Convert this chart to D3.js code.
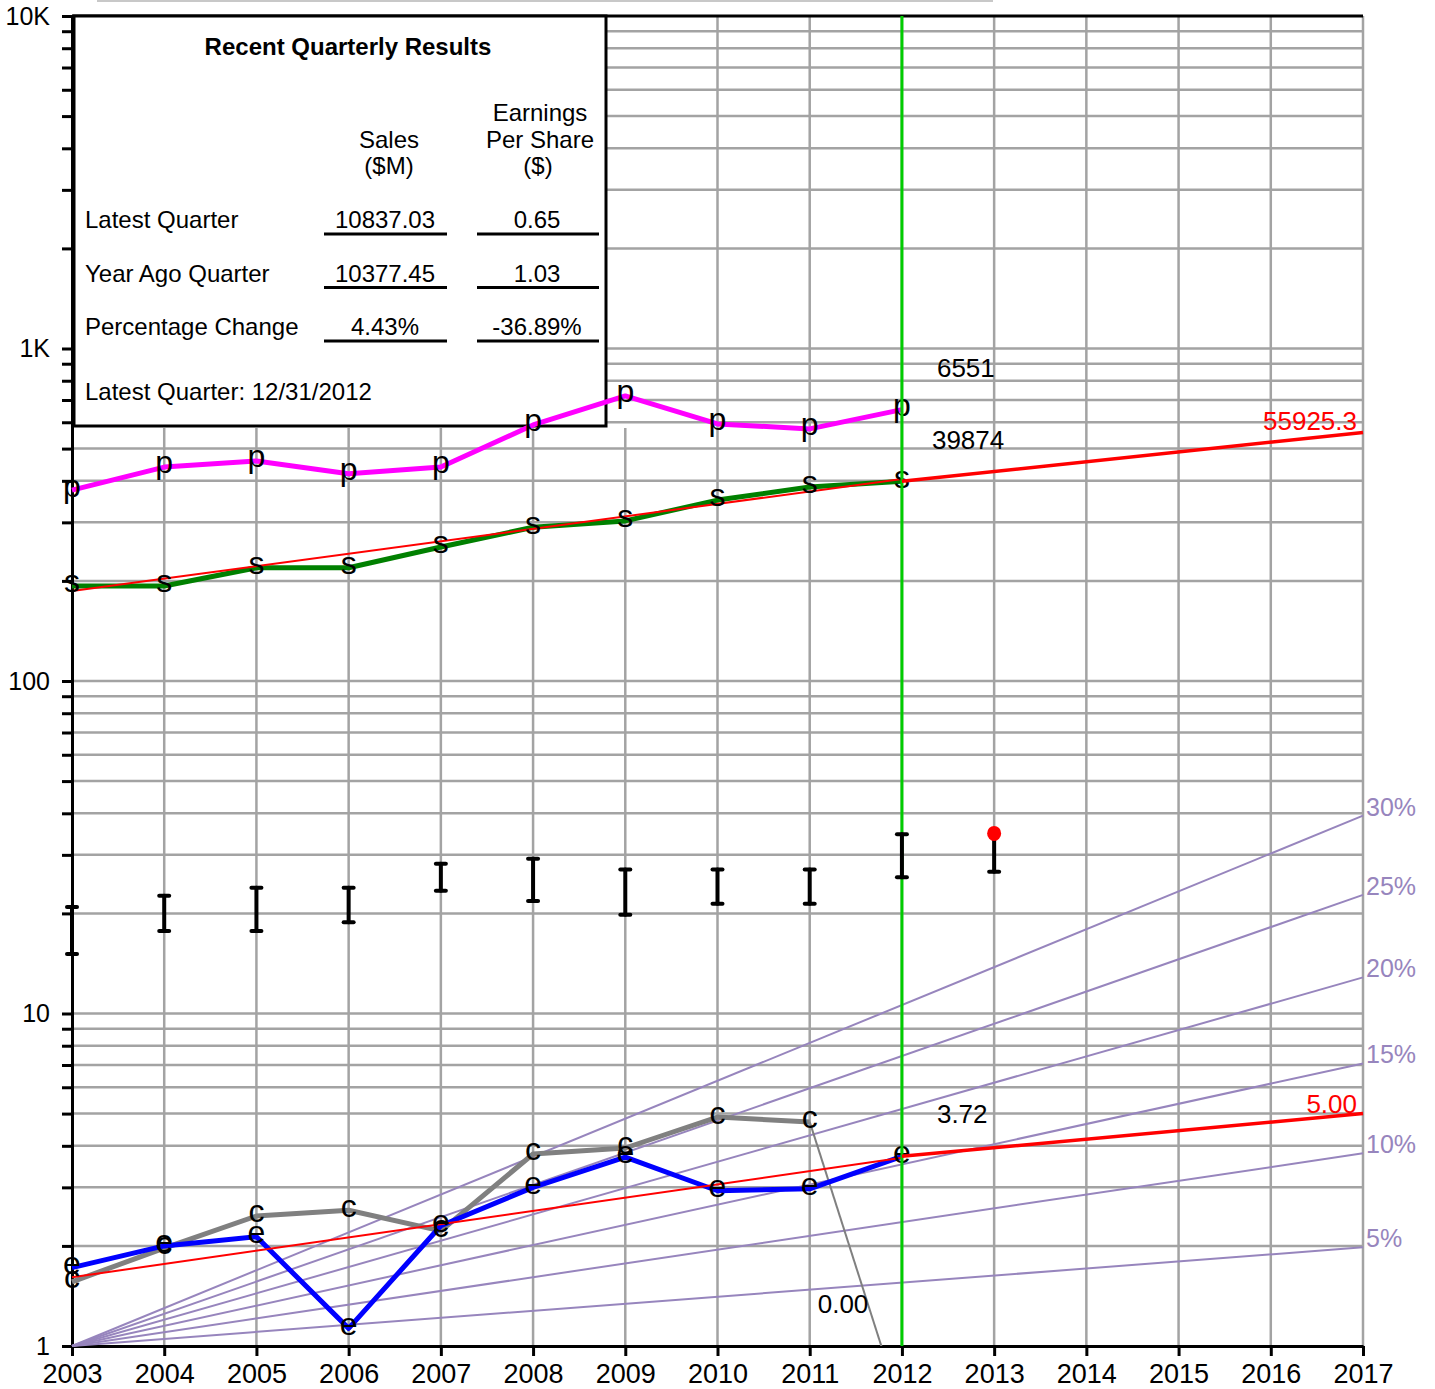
<!DOCTYPE html>
<html>
<head>
<meta charset="utf-8">
<script src="https://cdn.jsdelivr.net/npm/d3@7"></script>
<style>
  body { margin: 0; background: #fff; }
  svg { display: block; }
  text { font-family: "Liberation Sans", Arial, Helvetica, sans-serif; }
</style>
</head>
<body>
<svg id="chart" width="1435" height="1389"></svg>
<script>
// ---- data -------------------------------------------------------------
const years      = [2003, 2004, 2005, 2006, 2007, 2008, 2009, 2010, 2011, 2012];
const axisYears  = d3.range(2003, 2018);

// annual sales, $M (plotted in hundreds)
const salesM     = [19300, 19300, 21900, 21900, 25300, 29000, 30300, 35000, 38300, 39874];
// "p" series (plotted in tens)
const pSeries    = [3750, 4400, 4590, 4200, 4400, 5890, 7200, 5930, 5730, 6551];
// earnings per share, $
const eps        = [1.72, 2.00, 2.13, 1.13, 2.30, 3.00, 3.70, 2.93, 2.97, 3.72];
// "c" series, $ per share
const cSeries    = [1.56, 1.97, 2.46, 2.56, 2.22, 3.78, 3.94, 4.88, 4.72, 0.00];

// yearly price ranges
const rangeYears = [2003, 2004, 2005, 2006, 2007, 2008, 2009, 2010, 2011, 2012];
const priceHigh  = [20.9, 22.6, 23.9, 23.9, 28.2, 29.2, 27.1, 27.1, 27.1, 34.6];
const priceLow   = [15.1, 17.7, 17.7, 18.8, 23.4, 21.8, 19.8, 21.4, 21.4, 25.7];
const currentYear  = 2013;
const currentLow   = 26.7;
const currentPrice = 34.8;

// reference growth lines from 1.0 in 2003
const growthRates = [5, 10, 15, 20, 25, 30];

// fitted trend and five-year projections
const salesFit        = [[2003, 18650], [2012, 40500]];
const salesProjection = [[2012, 39874], [2017, 55925.3]];
const epsFit          = [[2003, 1.61], [2012, 3.68]];
const epsProjection   = [[2012, 3.72], [2017, 5.00]];

const yTickLabels = { 1: "1", 10: "10", 100: "100", 1000: "1K", 10000: "10K" };

// recent quarterly results table
const quarterRows  = ["Latest Quarter", "Year Ago Quarter", "Percentage Change"];
const quarterSales = ["10837.03", "10377.45", "4.43%"];
const quarterEps   = ["0.65", "1.03", "-36.89%"];
const latestQuarterDate = "12/31/2012";

// ---- scales -----------------------------------------------------------
const SALES_DIV = 100, P_DIV = 10, C_FLOOR = 0.64;
const x = d3.scaleLinear().domain([2003, 2017]).range([72, 1363]);
const y = d3.scaleLog().domain([1, 10000]).range([1346, 16]);

const svg = d3.select("#chart");
const GRID = "#a3a3a3", PURPLE = "#9785bd";
const FONT = '"Liberation Sans", Arial, sans-serif';

const gridValues = [];
[1, 10, 100, 1000].forEach(d => d3.range(1, 10).forEach(k => gridValues.push(d * k)));
gridValues.push(10000);

svg.append("defs").append("clipPath").attr("id", "plot")
  .append("rect").attr("x", x(2003)).attr("y", y(10000))
  .attr("width", x(2017) - x(2003)).attr("height", y(1) - y(10000));

// thin bar along the very top
svg.append("line").attr("x1", 97).attr("x2", 993).attr("y1", 1).attr("y2", 1)
  .attr("stroke", "#c8c8c8").attr("stroke-width", 2);

// ---- grid -------------------------------------------------------------
const box = { x: 74, y: 16, w: 532, h: 410 };

svg.append("g").selectAll("line")
  .data(gridValues.filter(v => v > 1 && v < 10000))
  .join("line")
  .attr("x1", x(2003)).attr("x2", x(2017))
  .attr("y1", d => y(d)).attr("y2", d => y(d))
  .attr("stroke", GRID).attr("stroke-width", 2.5);

svg.append("g").selectAll("line")
  .data(axisYears.filter(d => d > 2003))
  .join("line")
  .attr("x1", d => x(d)).attr("x2", d => x(d))
  .attr("y1", d => x(d) < box.x + box.w + 25 ? box.y + box.h + 2 : y(10000))
  .attr("y2", y(1))
  .attr("stroke", GRID).attr("stroke-width", 2.5);

// top frame line
svg.append("line").attr("x1", x(2003)).attr("x2", x(2017))
  .attr("y1", y(10000)).attr("y2", y(10000))
  .attr("stroke", "#000").attr("stroke-width", 3);

// ---- axes -------------------------------------------------------------
const yAxis = svg.append("g").attr("transform", `translate(${x(2003)},0)`)
  .call(d3.axisLeft(y).tickValues(gridValues).tickSize(10).tickSizeOuter(0).tickPadding(12)
    .tickFormat(d => yTickLabels[d] || ""));
const xAxis = svg.append("g").attr("transform", `translate(0,${y(1)})`)
  .call(d3.axisBottom(x).tickValues(axisYears).tickSize(10).tickSizeOuter(0).tickPadding(8)
    .tickFormat(d3.format("d")));
[yAxis, xAxis].forEach(g => {
  g.select(".domain").attr("stroke", "#000").attr("stroke-width", 3);
  g.selectAll(".tick line").attr("stroke", "#000").attr("stroke-width", 3);
  g.selectAll(".tick text").attr("fill", "#000").style("font-family", FONT);
});
yAxis.selectAll(".tick text").style("font-size", "25px");
xAxis.selectAll(".tick text").style("font-size", "27px");

// ---- results table ----------------------------------------------------
const tbl = svg.append("g").style("font-size", "24px");
tbl.append("rect").attr("x", box.x).attr("y", box.y).attr("width", box.w).attr("height", box.h)
  .attr("fill", "#fff").attr("stroke", "#000").attr("stroke-width", 3);
tbl.append("text").attr("x", 348).attr("y", 55).attr("text-anchor", "middle")
  .style("font-weight", "bold").text("Recent Quarterly Results");
const colSales = 389, colEps = 540;
[["Sales", colSales, 148], ["($M)", colSales, 174],
 ["Earnings", colEps, 121], ["Per Share", colEps, 148], ["($)", colEps - 2, 174]]
  .forEach(([t, cx, cy]) => tbl.append("text").attr("x", cx).attr("y", cy)
    .attr("text-anchor", "middle").text(t));
quarterRows.forEach((label, i) => {
  const base = 228 + i * 53.5;
  tbl.append("text").attr("x", 85).attr("y", base).text(label);
  tbl.append("text").attr("x", colSales - 4).attr("y", base).attr("text-anchor", "middle")
    .text(quarterSales[i]);
  tbl.append("text").attr("x", colEps - 3).attr("y", base).attr("text-anchor", "middle")
    .text(quarterEps[i]);
  [[324, 447], [477, 599]].forEach(([a, b]) =>
    tbl.append("line").attr("x1", a).attr("x2", b).attr("y1", base + 6).attr("y2", base + 6)
      .attr("stroke", "#000").attr("stroke-width", 3));
});
tbl.append("text").attr("x", 85).attr("y", 400).text("Latest Quarter: " + latestQuarterDate);

// ---- plotted marks ----------------------------------------------------
const plot = svg.append("g");

// growth reference lines
plot.selectAll(".growth").data(growthRates).join("line")
  .attr("x1", x(2003)).attr("y1", y(1))
  .attr("x2", x(2017)).attr("y2", r => y(Math.pow(1 + r / 100, 2017 - 2003)))
  .attr("stroke", PURPLE).attr("stroke-width", 2);

const line = d3.line().x(d => x(d[0])).y(d => y(d[1]));
const fits = [salesFit.map(d => [d[0], d[1] / SALES_DIV]), epsFit];

const series = [
  { key: "p", vals: pSeries.map(v => v / P_DIV), color: "#ff00ff" },
  { key: "s", vals: salesM.map(v => v / SALES_DIV), color: "#008000" },
  { key: "c", vals: cSeries.slice(0, 9), color: "#808080" },
  { key: "e", vals: eps, color: "#0000ff" }
];

// the c series drops to zero in the last year: thin connector toward the floor
plot.append("path").attr("clip-path", "url(#plot)")
  .attr("d", line([[years[8], cSeries[8]], [years[9], Math.max(cSeries[9], C_FLOOR)]]))
  .attr("fill", "none").attr("stroke", "#808080").attr("stroke-width", 2);

series.forEach(s => {
  const pts = s.vals.map((v, i) => [years[i], v]);
  plot.append("path").attr("d", line(pts)).attr("fill", "none")
    .attr("stroke", s.color).attr("stroke-width", 5).attr("stroke-linejoin", "round");
});
// red fitted trends crossing over the data lines
fits.forEach(seg =>
  plot.append("path").attr("d", line(seg)).attr("fill", "none")
    .attr("stroke", "#ff0000").attr("stroke-width", 2));

series.forEach(s => {
  plot.append("g").selectAll("text").data(s.vals).join("text")
    .attr("x", (v, i) => x(years[i])).attr("y", v => y(v))
    .attr("dy", "0.2em").attr("text-anchor", "middle")
    .style("font-size", "32px").attr("fill", "#000").text(s.key);
});

// latest fiscal year marker
svg.append("line").attr("x1", x(2012)).attr("x2", x(2012)).attr("y1", y(10000)).attr("y2", y(1))
  .attr("stroke", "#00cc00").attr("stroke-width", 3);

// price range bars
const bars = svg.append("g").attr("stroke", "#000").attr("stroke-width", 4)
  .attr("stroke-linecap", "round");
rangeYears.forEach((yr, i) => {
  const cx = x(yr);
  bars.append("line").attr("x1", cx).attr("x2", cx).attr("y1", y(priceHigh[i])).attr("y2", y(priceLow[i]));
  [priceHigh[i], priceLow[i]].forEach(v =>
    bars.append("line").attr("x1", cx - 5).attr("x2", cx + 5).attr("y1", y(v)).attr("y2", y(v)));
});
{
  const cx = x(currentYear);
  bars.append("line").attr("x1", cx).attr("x2", cx).attr("y1", y(currentPrice)).attr("y2", y(currentLow));
  bars.append("line").attr("x1", cx - 5).attr("x2", cx + 5).attr("y1", y(currentLow)).attr("y2", y(currentLow));
  svg.append("ellipse").attr("cx", cx).attr("cy", y(currentPrice)).attr("rx", 7).attr("ry", 7.5)
    .attr("fill", "#ff0000");
}

// projections (thick)
[salesProjection.map(d => [d[0], d[1] / SALES_DIV]), epsProjection].forEach(seg =>
  svg.append("path").attr("d", line(seg)).attr("fill", "none")
    .attr("stroke", "#ff0000").attr("stroke-width", 3.5));

// ---- value labels -----------------------------------------------------
const lbl = svg.append("g").style("font-size", "26px");
lbl.append("text").attr("x", x(2012) + 35).attr("y", y(pSeries[9] / P_DIV) - 33).text(d3.format("d")(pSeries[9]));
lbl.append("text").attr("x", x(2012) + 30).attr("y", y(salesM[9] / SALES_DIV) - 32).text(d3.format("d")(salesM[9]));
lbl.append("text").attr("x", x(2017) - 6).attr("y", y(salesProjection[1][1] / SALES_DIV) - 2)
  .attr("text-anchor", "end").attr("fill", "#ff0000").text(salesProjection[1][1].toFixed(1));
lbl.append("text").attr("x", x(2012) + 35).attr("y", y(eps[9]) - 33).text(eps[9].toFixed(2));
lbl.append("text").attr("x", x(2017) - 6).attr("y", y(epsProjection[1][1]) - 1)
  .attr("text-anchor", "end").attr("fill", "#ff0000").text(epsProjection[1][1].toFixed(2));
lbl.append("text").attr("x", x(2011) + 8).attr("y", 1313).text(cSeries[9].toFixed(2));

svg.append("g").selectAll("text").data(growthRates).join("text")
  .attr("x", x(2017) + 3).attr("y", r => y(Math.pow(1 + r / 100, 2017 - 2003)))
  .style("font-size", "25px").attr("fill", PURPLE).text(r => r + "%");
</script>
</body>
</html>
